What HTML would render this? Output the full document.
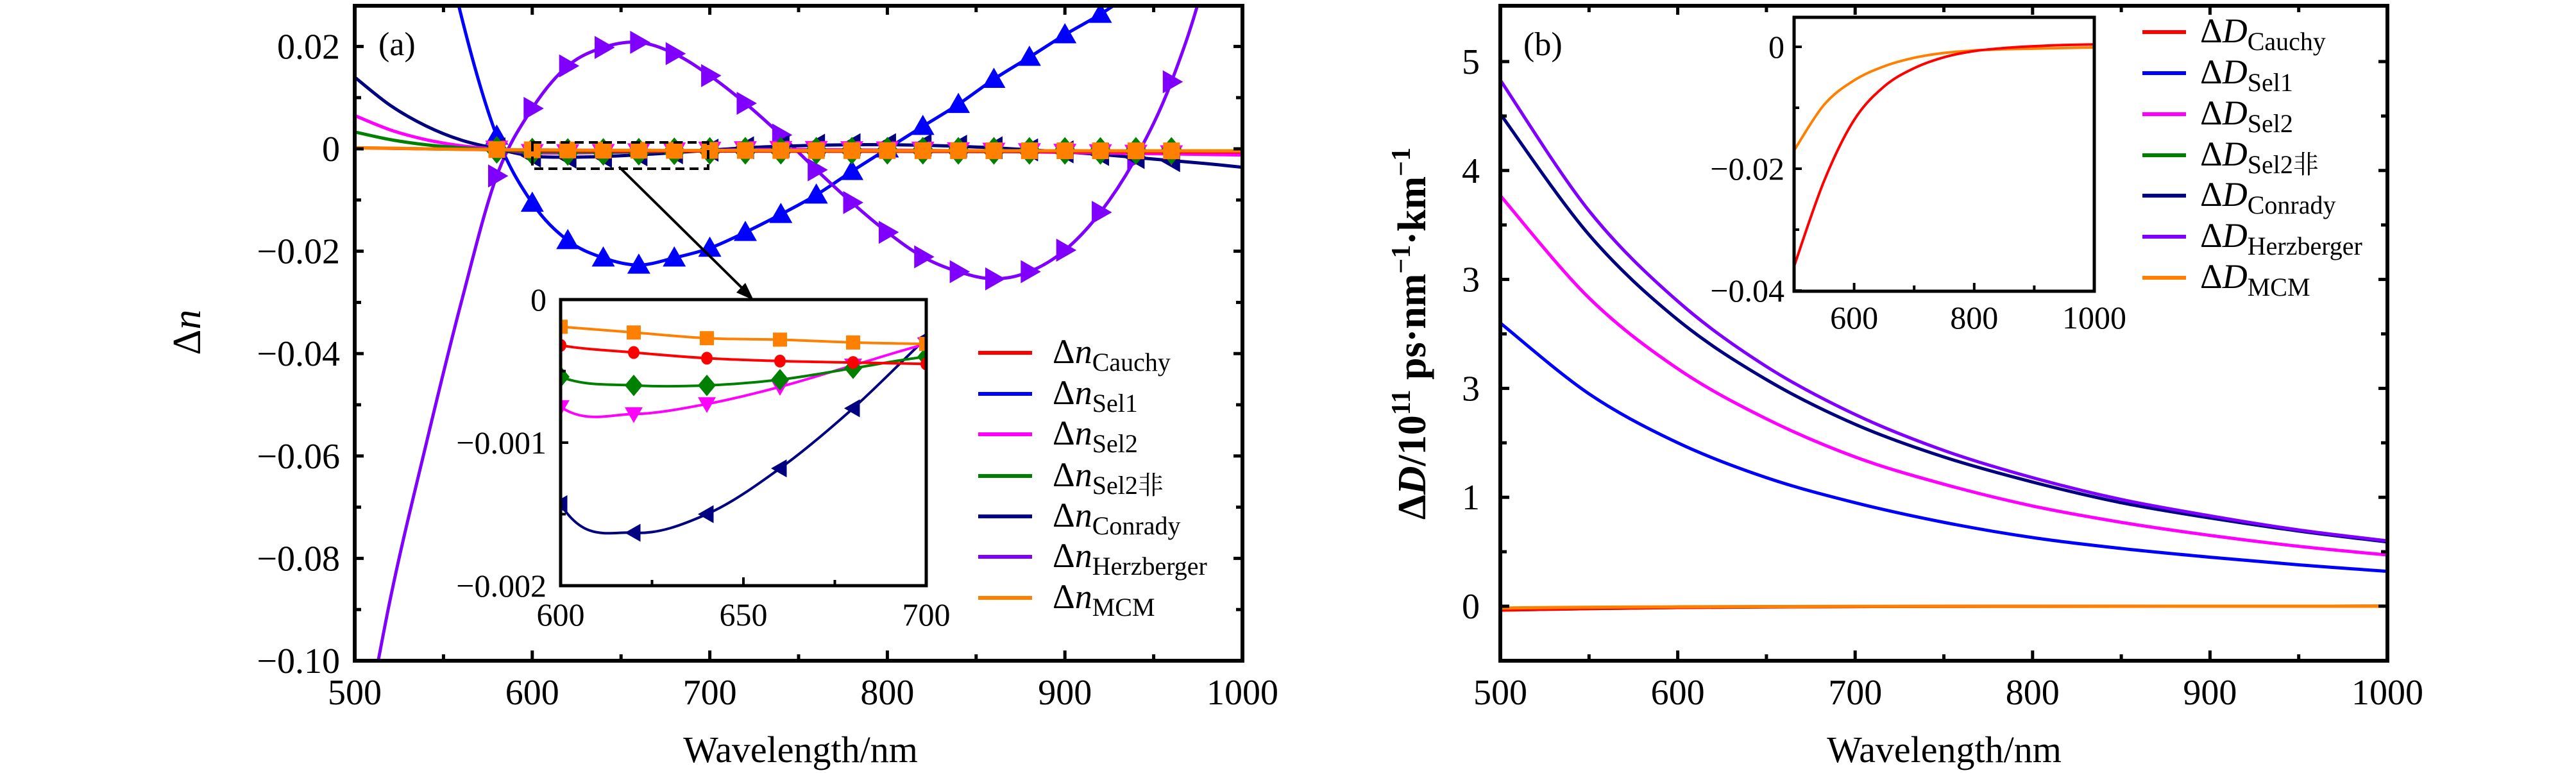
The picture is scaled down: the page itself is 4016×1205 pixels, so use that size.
<!DOCTYPE html>
<html><head><meta charset="utf-8"><style>
html,body{margin:0;padding:0;background:#fff;width:4016px;height:1205px;overflow:hidden;}
svg{display:block;}
text{font-family:"Liberation Serif","DejaVu Serif","Noto Serif CJK SC",serif;fill:#000;}
</style></head><body>
<svg id="fig" width="4016" height="1205" viewBox="0 0 4016 1205" xmlns="http://www.w3.org/2000/svg">
<defs>
<clipPath id="clipA"><rect x="553" y="9" width="1384" height="1021"/></clipPath>
<clipPath id="clipAi"><rect x="874" y="467" width="570" height="446"/></clipPath>
<clipPath id="clipB"><rect x="2339" y="9" width="1383" height="1021"/></clipPath>
<clipPath id="clipBi"><rect x="2797" y="27" width="468" height="427"/></clipPath>
</defs>
<g id="root"></g>
</svg>
<script>
// ---------- Panel (a) data ----------
const wlA = [500,520,540,560,580,600,620,640,660,680,700,720,740,760,780,800,820,840,860,880,900,920,940,960,980,1000];
const nCauchy = [0.0002,0.0001,0.0,-0.0001,-0.0002,-0.00032,-0.00037,-0.00041,-0.00043,-0.00044,-0.00045,-0.00046,-0.00047,-0.00048,-0.00049,-0.0005,-0.00051,-0.00052,-0.00053,-0.00054,-0.00055,-0.00056,-0.00057,-0.00058,-0.00059,-0.0006];
const nSel1 = [0.15,0.10,0.058,0.026,0.0025,-0.0106,-0.0179,-0.0213,-0.0227,-0.0213,-0.0194,-0.0163,-0.0128,-0.009,-0.0044,0.0,0.0044,0.0087,0.0136,0.0179,0.0223,0.0263,0.031,0.036,0.041,0.046];
const nSel2 = [0.0065,0.0037,0.0018,0.0006,-0.0001,-0.00075,-0.0008,-0.00073,-0.00061,-0.00046,-0.00031,-0.0002,-0.00015,-0.00015,-0.0002,-0.00025,-0.0003,-0.0004,-0.0005,-0.0006,-0.0007,-0.0008,-0.0009,-0.001,-0.0011,-0.0012];
const nSel2f = [0.0033,0.0018,0.0008,0.0002,-0.0002,-0.00054,-0.0006,-0.0006,-0.00056,-0.00048,-0.0004,-0.00038,-0.00037,-0.00037,-0.00037,-0.00038,-0.00038,-0.00039,-0.00039,-0.0004,-0.0004,-0.0004,-0.0004,-0.0004,-0.0004,-0.0004];
const nConrady = [0.014,0.0085,0.0045,0.0017,0.0,-0.00143,-0.00163,-0.0015,-0.00118,-0.00076,-0.00027,0.0002,0.0005,0.0007,0.0008,0.0008,0.0007,0.0005,0.0002,-0.0002,-0.0006,-0.0011,-0.0017,-0.0023,-0.0029,-0.0036];
const nHerz = [-0.125,-0.088,-0.058,-0.03,-0.0053,0.0079,0.0162,0.0198,0.0208,0.0186,0.0143,0.0089,0.0027,-0.0041,-0.0105,-0.0163,-0.0211,-0.024,-0.0254,-0.024,-0.0198,-0.0124,-0.0017,0.0131,0.035,0.07];
const nMCM = [0.0002,0.00012,0.0,-0.0001,-0.00015,-0.00019,-0.00023,-0.00027,-0.00028,-0.0003,-0.00031,-0.00032,-0.00033,-0.00034,-0.00035,-0.00035,-0.00036,-0.00036,-0.00037,-0.00037,-0.00038,-0.00038,-0.00039,-0.00039,-0.0004,-0.0004];
const yTicksA = [0.02,0,-0.02,-0.04,-0.06,-0.08,-0.10];
const yTickLabelsA = ["0.02","0","\u22120.02","\u22120.04","\u22120.06","\u22120.08","\u22120.10"];
const xTicksA = [500,600,700,800,900,1000];
const xTicksAi = [600,650,700];
const yTicksAi = [0,-0.001,-0.002];
const yTickLabelsAi = ["0","\u22120.001","\u22120.002"];
// ---------- Panel (b) data ----------
const wlB = [500,550,600,650,700,750,800,850,900,950,1000];
const dCauchy = [-0.036,-0.022,-0.012,-0.0065,-0.0035,-0.0017,-0.0007,-0.0002,0.0001,0.0003,0.0004];
const dSel1 = [2.6,1.95,1.50,1.18,0.95,0.77,0.63,0.53,0.45,0.38,0.32];
const dSel2 = [3.77,2.83,2.18,1.72,1.37,1.12,0.92,0.77,0.65,0.55,0.47];
const dSel2f = [-0.036,-0.022,-0.012,-0.0065,-0.0035,-0.0017,-0.0007,-0.0002,0.0001,0.0003,0.0004];
const dConrady = [4.52,3.41,2.63,2.08,1.67,1.37,1.14,0.95,0.81,0.69,0.59];
const dHerz = [4.83,3.63,2.80,2.20,1.76,1.43,1.18,0.98,0.83,0.70,0.60];
const dMCM = [-0.017,-0.0095,-0.0055,-0.0032,-0.0018,-0.001,-0.0006,-0.0004,-0.0003,-0.0002,-0.0001];
const yTicksB = [5,4,3.0001,2,1,0];
const yTickLabelsB = ["5","4","3","3","1","0"];
const xTicksB = [500,600,700,800,900,1000];
const xTicksBi = [600,800,1000];
const yTicksBi = [0,-0.02,-0.04];
const yTickLabelsBi = ["0","\u22120.02","\u22120.04"];
const labelsSub = ["Cauchy","Sel1","Sel2","Sel2\u975e","Conrady","Herzberger","MCM"];

const NS="http://www.w3.org/2000/svg";
const root=document.getElementById('root');
function el(tag,attrs,parent){const e=document.createElementNS(NS,tag);for(const k in attrs)e.setAttribute(k,attrs[k]);(parent||root).appendChild(e);return e;}
function lin(d0,d1,r0,r1){return v=>r0+(v-d0)/(d1-d0)*(r1-r0);}
function pathD(xs,ys,sx,sy){const p=xs.map((x,i)=>[sx(x),sy(ys[i])]);let d=`M${p[0][0]},${p[0][1]}`;
 for(let i=0;i<p.length-1;i++){const p0=p[i-1]||p[i],p1=p[i],p2=p[i+1],p3=p[i+2]||p2;
 const c1=[p1[0]+(p2[0]-p0[0])/6,p1[1]+(p2[1]-p0[1])/6],c2=[p2[0]-(p3[0]-p1[0])/6,p2[1]-(p3[1]-p1[1])/6];
 d+=` C${c1[0]},${c1[1]} ${c2[0]},${c2[1]} ${p2[0]},${p2[1]}`;}return d;}
function marker(g,type,x,y,s,color){let e;
 if(type==='circle'){e=el('ellipse',{cx:x,cy:y,rx:s*0.9,ry:s,fill:color},g);}
 else if(type==='square'){e=el('rect',{x:x-s,y:y-s,width:2*s,height:2*s,fill:color},g);}
 else if(type==='diamond'){e=el('polygon',{points:`${x},${y-s*1.2} ${x+s},${y} ${x},${y+s*1.2} ${x-s},${y}`,fill:color},g);}
 else if(type==='up'){e=el('polygon',{points:`${x},${y-s} ${x+s},${y+s*0.75} ${x-s},${y+s*0.75}`,fill:color},g);}
 else if(type==='down'){e=el('polygon',{points:`${x},${y+s} ${x+s},${y-s*0.75} ${x-s},${y-s*0.75}`,fill:color},g);}
 else if(type==='left'){e=el('polygon',{points:`${x-s},${y} ${x+s*0.75},${y-s} ${x+s*0.75},${y+s}`,fill:color},g);}
 else if(type==='right'){e=el('polygon',{points:`${x+s},${y} ${x-s*0.75},${y-s} ${x-s*0.75},${y+s}`,fill:color},g);}
 
 }
function txt(x,y,s,size,anchor,parent){const t=el('text',{x:x,y:y,'font-size':size,'text-anchor':anchor||'middle'},parent);t.textContent=s;return t;}
function frame(x0,y0,x1,y1,w,name){const r=el('rect',{x:x0,y:y0,width:x1-x0,height:y1-y0,fill:'none',stroke:'#000','stroke-width':w});
 
 }
function tick(x1,y1,x2,y2,w){const l=el('line',{x1,y1,x2,y2,stroke:'#000','stroke-width':w||5});
 
 }

const colors={Cauchy:'#ff0000',Sel1:'#0000ff',Sel2:'#ff00ff',Sel2f:'#008000',Conrady:'#000080',Herz:'#8000ff',MCM:'#ff8000'};

// ===== Panel A =====
const xA=lin(500,1000,553,1937), yA=lin(0,-0.02,232,391.6);
const seriesA=[
 {n:'sel1',d:nSel1,c:colors.Sel1,m:'up'},
 {n:'herzberger',d:nHerz,c:colors.Herz,m:'right'},
 {n:'conrady',d:nConrady,c:colors.Conrady,m:'left'},
 {n:'sel2',d:nSel2,c:colors.Sel2,m:'down'},
 {n:'sel2-nonlinear',d:nSel2f,c:colors.Sel2f,m:'diamond'},
 {n:'cauchy',d:nCauchy,c:colors.Cauchy,m:'circle'},
 {n:'mcm',d:nMCM,c:colors.MCM,m:'square'}];
const gA=el('g',{'clip-path':'url(#clipA)'});


seriesA.forEach(s=>{
 const p=el('path',{d:pathD(wlA,s.d,xA,yA),fill:'none',stroke:s.c,'stroke-width':5},gA);
 
 
 wlA.forEach((w,i)=>{if(w>=580&&w<=960)marker(gA,s.m,xA(w),yA(s.d[i]),s.m==='square'?13:(s.m==='circle'?12:18),s.c);});
});
frame(553,9,1937,1030,6,'plot-a-frame');
yTicksA.forEach((v,i)=>{tick(553,yA(v),567,yA(v));tick(1937,yA(v),1923,yA(v));
 const t=txt(530,yA(v)+19,yTickLabelsA[i],56,'end');
 
 });
for(let v=0.01;v>-0.1;v-=0.02){tick(553,yA(v),563,yA(v));tick(1937,yA(v),1927,yA(v));}
xTicksA.forEach(v=>{tick(xA(v),1030,xA(v),1014);tick(xA(v),9,xA(v),23);
 const t=txt(xA(v),1098,String(v),56);
 
 });
for(let v=550;v<1000;v+=100){tick(xA(v),1030,xA(v),1020);tick(xA(v),9,xA(v),19);}
{const t=txt(590,86,'(a)',52,'start');}
{const t=txt(1248,1188,'Wavelength/nm',58);}
{const t=el('text',{x:0,y:0,'font-size':62,'text-anchor':'middle',transform:'translate(312,518) rotate(-90)'});
 t.innerHTML='\u0394<tspan font-style="italic">n</tspan>';
 }
// dashed rect and arrow
{const r=el('rect',{x:830,y:222,width:274,height:41,fill:'none',stroke:'#000','stroke-width':4,'stroke-dasharray':'14,8'});
 
 const a=el('line',{x1:965,y1:260,x2:1160,y2:452,stroke:'#000','stroke-width':4});
 
 const h=el('polygon',{points:'1175,468 1148,456 1162,441',fill:'#000'});
 }
// inset A
const xAi=lin(600,700,874,1444), yAi=lin(0,-0.002,467,913);
el('rect',{x:874,y:467,width:570,height:446,fill:'#fff'});
const gAi=el('g',{'clip-path':'url(#clipAi)'});


seriesA.slice(2).forEach(s=>{
 const p=el('path',{d:pathD(wlA,s.d,xAi,yAi),fill:'none',stroke:s.c,'stroke-width':4},gAi);
 
 
 wlA.forEach((w,i)=>{if(w>=600&&w<=700)marker(gAi,s.m,xAi(w),yAi(s.d[i]),s.m==='square'?11:(s.m==='circle'?10:14),s.c);});
});
frame(874,467,1444,913,5,'inset-a-frame');
yTicksAi.forEach((v,i)=>{tick(874,yAi(v),886,yAi(v),4);
 const t=txt(852,yAi(v)+17,yTickLabelsAi[i],50,'end');
 });
[-0.0005,-0.0015].forEach(v=>tick(874,yAi(v),882,yAi(v),4));
xTicksAi.forEach(v=>{tick(xAi(v),913,xAi(v),900,4);
 const t=txt(xAi(v),975,String(v),50);
 });
[625,675].forEach(v=>tick(xAi(v),913,xAi(v),904,4));
// legend A
const legYA=[550,614,677,742,805,868,932];
const legC=[colors.Cauchy,colors.Sel1,colors.Sel2,colors.Sel2f,colors.Conrady,colors.Herz,colors.MCM];
legYA.forEach((y,i)=>{
 const g=el('g',{});
 
 
 el('line',{x1:1525,y1:y,x2:1609,y2:y,stroke:legC[i],'stroke-width':6},g);
 const t=el('text',{x:1641,y:y+16,'font-size':54},g);
 t.innerHTML='\u0394<tspan font-style="italic">n</tspan><tspan font-size="40" dy="12">'+labelsSub[i]+'</tspan>';
});

// ===== Panel B =====
const xB=lin(500,1000,2339,3722), yB=lin(0,5,945,96);
const seriesB=[
 {n:'cauchy',d:dCauchy,c:colors.Cauchy},
 {n:'sel1',d:dSel1,c:colors.Sel1},
 {n:'sel2',d:dSel2,c:colors.Sel2},
 {n:'sel2-nonlinear',d:dSel2f,c:colors.Sel2f},
 {n:'conrady',d:dConrady,c:colors.Conrady},
 {n:'herzberger',d:dHerz,c:colors.Herz},
 {n:'mcm',d:dMCM,c:colors.MCM}];
const gB=el('g',{'clip-path':'url(#clipB)'});


[3,0,6,1,2,4,5].forEach(k=>{const s=seriesB[k];
 const p=el('path',{d:pathD(wlB,s.d,xB,yB),fill:'none',stroke:s.c,'stroke-width':5},gB);
 
 });
frame(2339,9,3722,1030,6,'plot-b-frame');
yTicksB.forEach((v,i)=>{tick(2339,yB(v),2353,yB(v));tick(3722,yB(v),3708,yB(v));
 const t=txt(2307,yB(v)+19,yTickLabelsB[i],56,'end');
 });
[4.5,3.5,2.5,1.5,0.5].forEach(v=>{tick(2339,yB(v),2349,yB(v));tick(3722,yB(v),3712,yB(v));});
xTicksB.forEach(v=>{tick(xB(v),1030,xB(v),1014);tick(xB(v),9,xB(v),23);
 const t=txt(xB(v),1098,String(v),56);
 });
for(let v=550;v<1000;v+=100){tick(xB(v),1030,xB(v),1020);tick(xB(v),9,xB(v),19);}
{const t=txt(2375,86,'(b)',52,'start');}
{const t=txt(3031,1188,'Wavelength/nm',58);}
{const t=el('text',{x:0,y:0,'font-size':62,'font-weight':'bold','text-anchor':'middle',transform:'translate(2222,520) rotate(-90)'});
 t.innerHTML='\u0394<tspan font-style="italic">D</tspan>/10<tspan font-size="42" dy="-24">11</tspan><tspan dy="24"> ps\u00b7nm</tspan><tspan font-size="42" dy="-24">\u22121</tspan><tspan dy="24">\u00b7km</tspan><tspan font-size="42" dy="-24">\u22121</tspan>';
 }
// inset B
const xBi=lin(500,1000,2797,3265), yBi=lin(0,-0.04,73,453);
el('rect',{x:2797,y:27,width:468,height:427,fill:'#fff'});
const gBi=el('g',{'clip-path':'url(#clipBi)'});


[6,0].forEach(k=>{const s=seriesB[k];
 const p=el('path',{d:pathD(wlB,s.d,xBi,yBi),fill:'none',stroke:s.c,'stroke-width':4},gBi);
 
 });
frame(2797,27,3265,454,5,'inset-b-frame');
yTicksBi.forEach((v,i)=>{tick(2797,yBi(v),2809,yBi(v),4);
 const t=txt(2782,yBi(v)+17,yTickLabelsBi[i],50,'end');
 });
[-0.01,-0.03].forEach(v=>tick(2797,yBi(v),2805,yBi(v),4));
xTicksBi.forEach(v=>{tick(xBi(v),454,xBi(v),441,4);
 const t=txt(xBi(v),512,String(v),50);
 });
[700,900].forEach(v=>tick(xBi(v),454,xBi(v),445,4));
// legend B
const legYB=[50,114,178,242,305,369,433];
legYB.forEach((y,i)=>{
 const g=el('g',{});
 
 
 el('line',{x1:3340,y1:y,x2:3408,y2:y,stroke:legC[i],'stroke-width':6},g);
 const t=el('text',{x:3430,y:y+16,'font-size':54},g);
 t.innerHTML='\u0394<tspan font-style="italic">D</tspan><tspan font-size="40" dy="12">'+labelsSub[i]+'</tspan>';
});
</script>
</body></html>
